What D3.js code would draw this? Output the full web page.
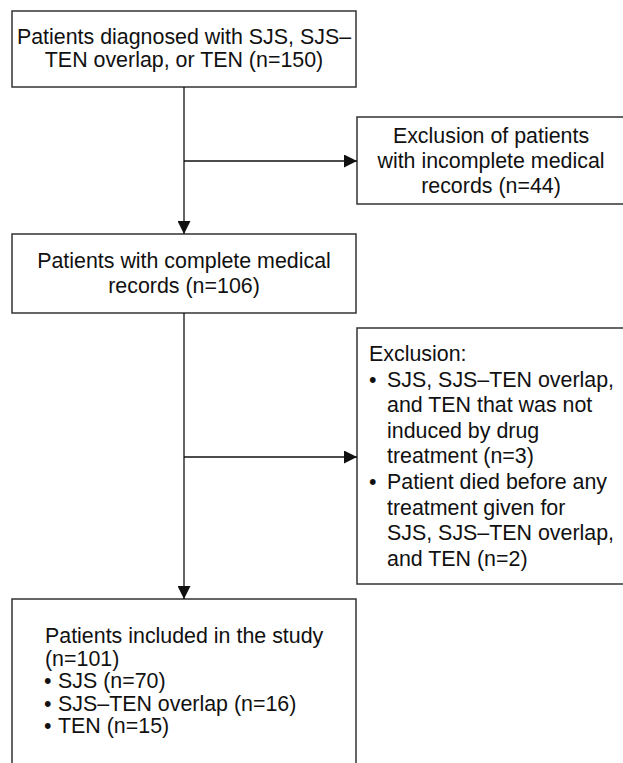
<!DOCTYPE html>
<html>
<head>
<meta charset="utf-8">
<script src="https://cdn.jsdelivr.net/npm/d3@7"></script>
<style>
  body { margin: 0; background: #fff; }
  text { font-family: "Liberation Sans", Arial, sans-serif; font-size: 21.4px; fill: #111; }
</style>
</head>
<body>
<div id="chart"></div>
<script>
// box texts
const box1Lines = ["Patients diagnosed with SJS, SJS\u2013", "TEN overlap, or TEN (n=150)"]
const box2Lines = ["Exclusion of patients", "with incomplete medical", "records (n=44)"]
const box3Lines = ["Patients with complete medical", "records (n=106)"]
const box4Head = "Exclusion:"
const box4Bullets = [
  ["SJS, SJS\u2013TEN overlap,", "and TEN that was not", "induced by drug", "treatment (n=3)"],
  ["Patient died before any", "treatment given for", "SJS, SJS\u2013TEN overlap,", "and TEN (n=2)"]
]
const box5Lines = ["Patients included in the study", "(n=101)"]
const box5Bullets = ["SJS (n=70)", "SJS\u2013TEN overlap (n=16)", "TEN (n=15)"]

const W = 623, H = 763

const svg = d3.select("#chart").append("svg")
  .attr("width", W).attr("height", H)

svg.append("defs").append("marker")
  .attr("id", "arrow")
  .attr("viewBox", "0 0 10 10")
  .attr("refX", 10).attr("refY", 5)
  .attr("markerWidth", 13).attr("markerHeight", 13)
  .attr("markerUnits", "userSpaceOnUse")
  .attr("orient", "auto")
  .append("path")
  .attr("d", "M0,0 L10,5 L0,10 Z")
  .attr("fill", "#111")

// left column and right column boxes
const leftX = 12, leftW = 344, midX = leftX + leftW / 2
const rightX = 357, rightW = 270

const boxes = [
  {x: leftX, y: 11, w: leftW, h: 76},
  {x: rightX, y: 117, w: rightW, h: 87},
  {x: leftX, y: 234, w: leftW, h: 79},
  {x: rightX, y: 328, w: rightW, h: 256},
  {x: leftX, y: 599, w: leftW, h: 200}
]

svg.selectAll("rect.box")
  .data(boxes)
  .join("rect")
  .attr("class", "box")
  .attr("x", d => d.x).attr("y", d => d.y)
  .attr("width", d => d.w).attr("height", d => d.h)
  .attr("fill", "none")
  .attr("stroke", "#333")
  .attr("stroke-width", 1.5)

function centered(lines, cx, y0, lh) {
  svg.append("g").selectAll("text")
    .data(lines)
    .join("text")
    .attr("x", cx)
    .attr("y", (d, i) => y0 + i * lh)
    .attr("text-anchor", "middle")
    .text(d => d)
}

centered(box1Lines, midX, 44, 22.5)
centered(box2Lines, rightX + 134, 143, 25)
centered(box3Lines, midX, 268, 24.5)

// box 4: heading + bullet list
const lh4 = 25.6, y4 = 361
let row = 0
svg.append("text").attr("x", 369).attr("y", y4).text(box4Head)
row++
box4Bullets.forEach(item => {
  svg.append("text").attr("x", 369).attr("y", y4 + row * lh4).text("\u2022")
  item.forEach(line => {
    svg.append("text").attr("x", 387).attr("y", y4 + row * lh4).text(line)
    row++
  })
})

// box 5
const lh5 = 22.5, y5 = 643
svg.append("g").selectAll("text")
  .data(box5Lines)
  .join("text")
  .attr("x", 45)
  .attr("y", (d, i) => y5 + i * lh5)
  .text(d => d)

const b5 = svg.append("g").selectAll("g")
  .data(box5Bullets)
  .join("g")
  .attr("transform", (d, i) => "translate(0," + (y5 + (i + box5Lines.length) * lh5) + ")")
b5.append("text").attr("x", 44).text("\u2022")
b5.append("text").attr("x", 58).text(d => d)

// connectors
const conn = [
  {x1: midX, y1: 87, x2: midX, y2: 234},
  {x1: midX, y1: 161, x2: rightX, y2: 161},
  {x1: midX, y1: 313, x2: midX, y2: 599},
  {x1: midX, y1: 457, x2: rightX, y2: 457}
]
svg.selectAll("line.conn")
  .data(conn)
  .join("line")
  .attr("class", "conn")
  .attr("x1", d => d.x1).attr("y1", d => d.y1)
  .attr("x2", d => d.x2).attr("y2", d => d.y2)
  .attr("stroke", "#111")
  .attr("stroke-width", 1.3)
  .attr("marker-end", "url(#arrow)")
</script>
</body>
</html>
